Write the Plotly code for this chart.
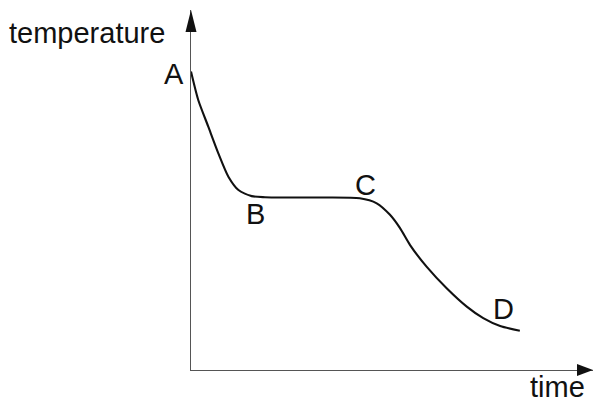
import plotly.graph_objects as go

# Data
time = [0.00, 0.18, 0.43, 0.68, 0.93, 1.18, 1.51, 1.84, 2.96, 4.20, 4.62, 4.95, 5.20,
        5.45, 5.86, 6.36, 6.86, 7.27, 7.69, 8.18]
temperature = [8.29, 7.50, 6.76, 6.02, 5.37, 5.00, 4.83, 4.80, 4.79, 4.77, 4.63, 4.31, 3.94,
               3.47, 2.87, 2.27, 1.76, 1.44, 1.22, 1.09]
point_labels = ["A", "B", "C", "D"]
label_index = [0, 7, 9, 19]
axis_titles = ["time", "temperature"]

FONT = "Liberation Sans, Arial, sans-serif"
AX = "#555555"
FS = 29

fig = go.Figure()
fig.add_trace(go.Scatter(
    x=time, y=temperature, mode="lines",
    line=dict(color="#111111", width=2.1, shape="spline", smoothing=0.7),
    hoverinfo="skip", showlegend=False,
))

label_offsets = [(-17, -2), (-9, -17), (6, 13), (-16, 22)]
annotations = []
for lab, idx, (dx, dy) in zip(point_labels, label_index, label_offsets):
    annotations.append(dict(
        x=time[idx], y=temperature[idx], xref="x", yref="y", text=lab,
        showarrow=False, xanchor="center", yanchor="middle",
        xshift=dx, yshift=dy, font=dict(family=FONT, size=FS, color="#111111"),
    ))
annotations.append(dict(
    x=1, y=0, xref="paper", yref="paper", text=axis_titles[0], showarrow=False,
    xanchor="right", yanchor="bottom", xshift=-6, yshift=-35,
    font=dict(family=FONT, size=FS, color="#111111"),
))
annotations.append(dict(
    x=0, y=1, xref="paper", yref="paper", text=axis_titles[1], showarrow=False,
    xanchor="right", yanchor="middle", xshift=-24, yshift=-23,
    font=dict(family=FONT, size=FS, color="#111111"),
))

shapes = [
    # arrowhead at the end of the time axis
    dict(type="path", xref="paper", yref="paper", xsizemode="pixel", ysizemode="pixel",
         xanchor=1, yanchor=0, path="M 0,0 L -16,6 L -16,-6 Z",
         fillcolor="#111111", line=dict(width=0)),
    # arrowhead at the top of the temperature axis
    dict(type="path", xref="paper", yref="paper", xsizemode="pixel", ysizemode="pixel",
         xanchor=0, yanchor=1, path="M 0,0 L -5.5,-22 L 5.5,-22 Z",
         fillcolor="#111111", line=dict(width=0)),
]

fig.update_layout(
    width=593, height=405,
    margin=dict(l=191, r=0, t=10, b=35),
    paper_bgcolor="white", plot_bgcolor="white",
    xaxis=dict(range=[0, 10], showgrid=False, zeroline=False, showticklabels=False,
               ticks="", showline=True, linecolor=AX, linewidth=1.3, fixedrange=True),
    yaxis=dict(range=[0, 10], showgrid=False, zeroline=False, showticklabels=False,
               ticks="", showline=True, linecolor=AX, linewidth=1.3, fixedrange=True),
    annotations=annotations, shapes=shapes,
)

fig.write_html("out.html", config={"displayModeBar": False},
               post_script="document.body.style.margin='0';document.body.style.overflow='hidden';")
